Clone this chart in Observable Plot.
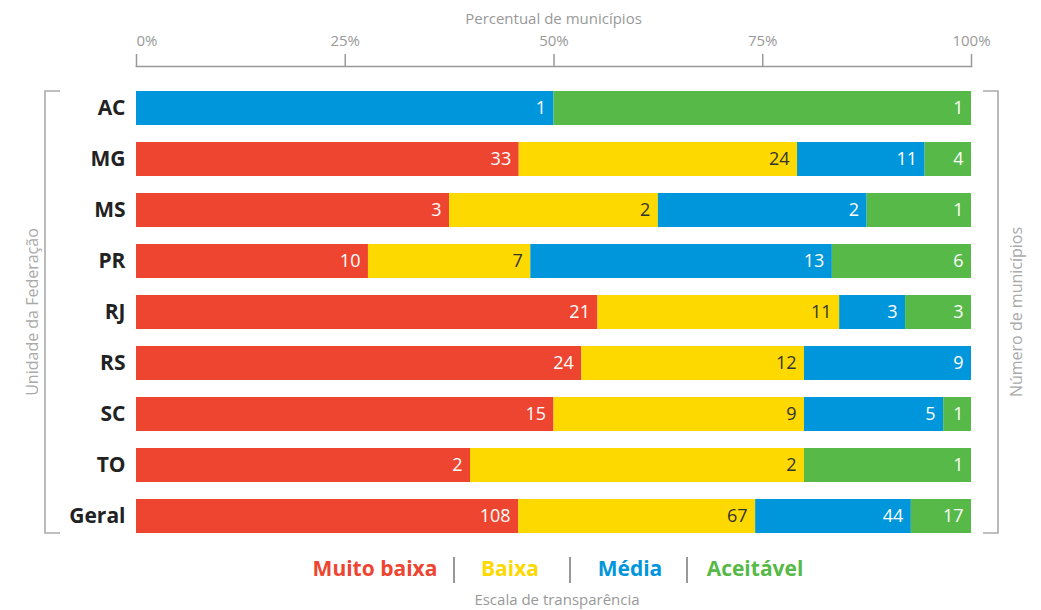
<!DOCTYPE html>
<html>
<head>
<meta charset="utf-8">
<script src="https://cdn.jsdelivr.net/npm/d3@7"></script>
<script src="https://cdn.jsdelivr.net/npm/@observablehq/plot@0.6"></script>
<style>
  body { margin: 0; background: #fff; font-family: "Open Sans", sans-serif; }
  #wrap { position: relative; width: 1041px; height: 610px; }
  .leg { position: absolute; top: 554px; font-weight: bold; font-size: 21px; transform: translateX(-50%); white-space: nowrap; }
  .sep { position: absolute; top: 557px; width: 0; height: 26px; border-left: 2px solid #999; }
  #cap { position: absolute; top: 589px; left: 557px; transform: translateX(-50%); font-size: 15px; color: #999; white-space: nowrap; }
</style>
</head>
<body>
<div id="wrap"></div>
<script>
const ufs = ["AC", "MG", "MS", "PR", "RJ", "RS", "SC", "TO", "Geral"];
const levels = ["Muito baixa", "Baixa", "Média", "Aceitável"];
const levelColors = ["#EE4530", "#FDD900", "#0096DB", "#57B947"];
const muitoBaixa = [0, 33, 3, 10, 21, 24, 15, 2, 108];
const baixa      = [0, 24, 2, 7, 11, 12, 9, 2, 67];
const media      = [1, 11, 2, 13, 3, 9, 5, 0, 44];
const aceitavel  = [1, 4, 1, 6, 3, 0, 1, 1, 17];
const xTicks = [0, 0.25, 0.5, 0.75, 1];

(function () {
const series = [muitoBaixa, baixa, media, aceitavel];
const rows = [];
ufs.forEach((uf, i) => {
  levels.forEach((lv, j) => rows.push({uf, level: lv, value: series[j][i]}));
});

const stackOpts = {offset: "normalize", x: "value", y: "uf", z: "level"};

const plot = Plot.plot({
  width: 1041,
  height: 610,
  marginLeft: 136,
  marginRight: 70,
  marginTop: 66,
  marginBottom: 74,
  style: {fontFamily: "Open Sans, sans-serif", background: "#fff"},
  x: {domain: [0, 1], axis: null},
  y: {domain: ufs, paddingInner: 0.34, paddingOuter: 0, insetTop: 21, axis: null},
  color: {domain: levels, range: levelColors},
  marks: [
    Plot.frame({anchor: "top", stroke: "#999", strokeWidth: 1.5}),
    Plot.axisX({anchor: "top", ticks: xTicks.slice(1), tickFormat: d3.format(".0%"), tickSize: 13, tickPadding: 8,
      stroke: "#999", strokeWidth: 1.5, color: "#999", fontSize: 15, label: null}),
    Plot.axisX({anchor: "top", ticks: xTicks.slice(0, 1), tickFormat: d3.format(".0%"), tickSize: 13, tickPadding: 8,
      stroke: "#999", strokeWidth: 1.5, color: "#999", fontSize: 15, textAnchor: "start", label: null}),
    Plot.axisY({anchor: "left", tickSize: 0, tickPadding: 11, fontSize: 21, fontWeight: "bold", color: "#222", label: null}),
    Plot.barX(rows, Plot.stackX({...stackOpts, fill: "level"})),
    Plot.text(rows, Plot.stackX2({...stackOpts,
      text: d => (d.value > 0 && d.level !== "Baixa") ? String(d.value) : null,
      textAnchor: "end", dx: -8, fill: "white", fontSize: 18})),
    Plot.text(rows, Plot.stackX2({...stackOpts,
      text: d => (d.value > 0 && d.level === "Baixa") ? String(d.value) : null,
      textAnchor: "end", dx: -8, fill: "#333", fontSize: 18}))
  ]
});

const wrap = document.getElementById("wrap");
wrap.appendChild(plot);

const ys = plot.scale("y");
const xs = plot.scale("x");
const yTop = ys.apply(ufs[0]);
const yBottom = ys.apply(ufs[ufs.length - 1]) + ys.bandwidth;
const yMid = (yTop + yBottom) / 2;
const x0 = xs.apply(0), x1 = xs.apply(1);
const svg = d3.select(plot);

svg.append("text").attr("x", (x0 + x1) / 2).attr("y", 24).attr("text-anchor", "middle")
  .attr("font-size", 15).attr("fill", "#999").text("Percentual de municípios");

const lx = x0 - 91, rx = x1 + 27;
svg.append("path").attr("d", `M${lx + 15},${yTop}H${lx}V${yBottom}H${lx + 15}`)
  .attr("fill", "none").attr("stroke", "#aaa").attr("stroke-width", 1.6);
svg.append("path").attr("d", `M${rx - 15},${yTop}H${rx}V${yBottom}H${rx - 15}`)
  .attr("fill", "none").attr("stroke", "#aaa").attr("stroke-width", 1.6);

svg.append("text").attr("transform", `translate(${lx - 7},${yMid}) rotate(-90)`)
  .attr("text-anchor", "middle").attr("font-size", 16).attr("fill", "#aaa").text("Unidade da Federação");
svg.append("text").attr("transform", `translate(${rx + 24},${yMid}) rotate(-90)`)
  .attr("text-anchor", "middle").attr("font-size", 16).attr("fill", "#aaa").text("Número de municípios");

const legCenters = [375, 510, 630, 755];
const sepX = [453, 569, 686];
levels.forEach((lv, i) => {
  const d = document.createElement("div");
  d.className = "leg";
  d.style.left = legCenters[i] + "px";
  d.style.color = levelColors[i];
  d.textContent = lv;
  wrap.appendChild(d);
});
sepX.forEach(x => {
  const s = document.createElement("div");
  s.className = "sep";
  s.style.left = x + "px";
  wrap.appendChild(s);
});
const cap = document.createElement("div");
cap.id = "cap";
cap.textContent = "Escala de transparência";
wrap.appendChild(cap);
})();
</script>
</body>
</html>
